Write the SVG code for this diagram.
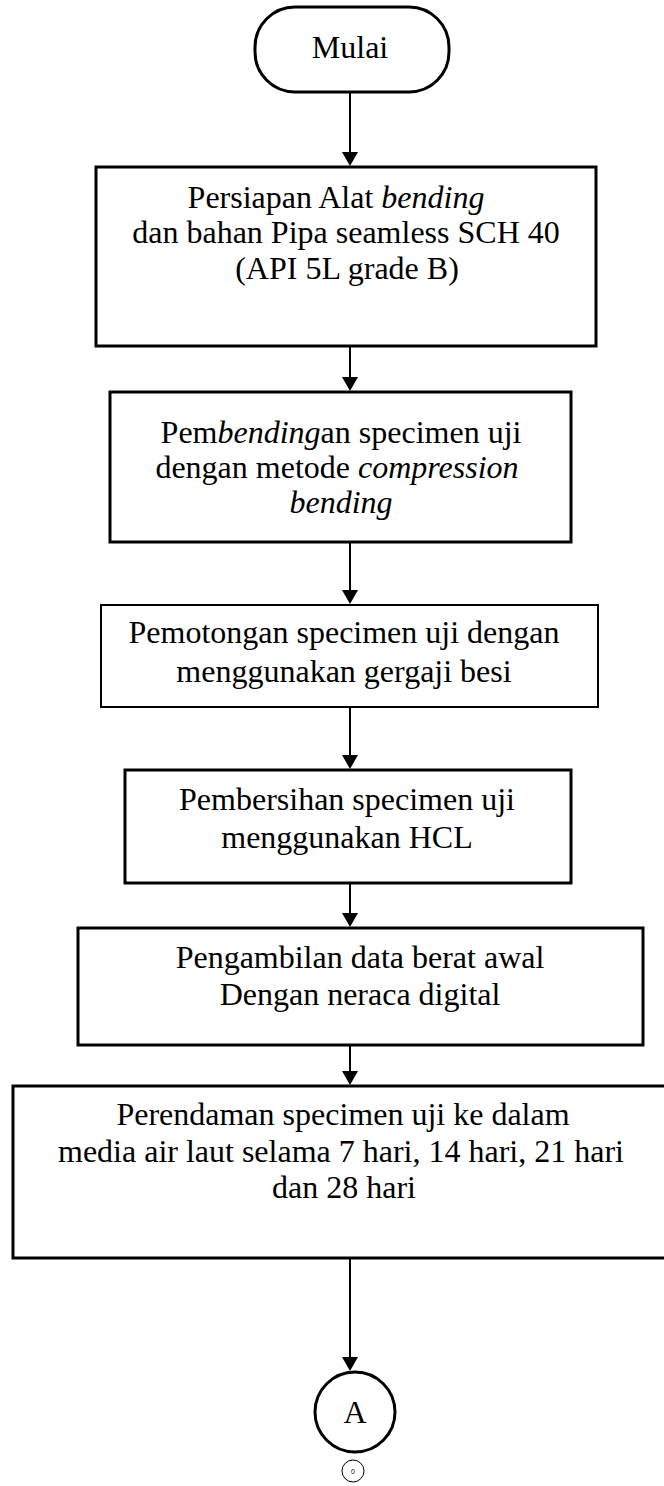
<svg xmlns="http://www.w3.org/2000/svg" width="664" height="1486" viewBox="0 0 664 1486">
<style>
.box{fill:#fff;stroke:#000;stroke-width:3}
.thin{fill:#fff;stroke:#000;stroke-width:2}
.t{font-family:"Liberation Serif","Times New Roman",serif;font-size:32px;fill:#000;text-anchor:middle}
.i{font-style:italic}
.c{stroke:#000;stroke-width:2;fill:none}
</style>
<defs>
<marker id="ah" markerUnits="userSpaceOnUse" markerWidth="16" markerHeight="15" refX="8" refY="15" orient="auto-start-reverse" viewBox="0 0 16 15">
<path d="M0,0 L16,0 L8,15 Z" fill="#000" transform="rotate(0)"/>
</marker>
</defs>
<rect width="664" height="1486" fill="#fff"/>
<g id="connectors">
<line class="c" x1="350" y1="92" x2="350" y2="152"/><path d="M342,152 L358,152 L350,166 Z"/>
<line class="c" x1="350" y1="346" x2="350" y2="378"/><path d="M342,377 L358,377 L350,391 Z"/>
<line class="c" x1="350" y1="542" x2="350" y2="591"/><path d="M342,590 L358,590 L350,604 Z"/>
<line class="c" x1="350" y1="707" x2="350" y2="756"/><path d="M342,755 L358,755 L350,769 Z"/>
<line class="c" x1="350" y1="883" x2="350" y2="914"/><path d="M342,913 L358,913 L350,927 Z"/>
<line class="c" x1="350" y1="1045" x2="350" y2="1072"/><path d="M342,1071 L358,1071 L350,1085 Z"/>
<line class="c" x1="350" y1="1258" x2="350" y2="1358"/><path d="M342,1357 L358,1357 L350,1371 Z"/>
</g>
<g id="start">
<rect class="box" x="255" y="7" width="194" height="85" rx="40" ry="40"/>
<text class="t" x="350" y="58">Mulai</text>
</g>
<g id="n1">
<rect class="box" x="96" y="167" width="500" height="179"/>
<text class="t" x="336" y="208">Persiapan Alat <tspan class="i">bending</tspan></text>
<text class="t" x="346" y="243">dan bahan Pipa seamless SCH 40</text>
<text class="t" x="347" y="279">(API 5L grade B)</text>
</g>
<g id="n2">
<rect class="box" x="110" y="392" width="461" height="150"/>
<text class="t" x="341" y="443">Pem<tspan class="i">bending</tspan>an specimen uji</text>
<text class="t" x="337" y="478">dengan metode <tspan class="i">compression</tspan></text>
<text class="t i" x="341" y="513">bending</text>
</g>
<g id="n3">
<rect class="thin" x="101" y="605" width="497" height="102"/>
<text class="t" x="344" y="643">Pemotongan specimen uji dengan</text>
<text class="t" x="344" y="682">menggunakan gergaji besi</text>
</g>
<g id="n4">
<rect class="box" x="125" y="770" width="446" height="113"/>
<text class="t" x="347" y="810">Pembersihan specimen uji</text>
<text class="t" x="347" y="848">menggunakan HCL</text>
</g>
<g id="n5">
<rect class="box" x="78" y="928" width="565" height="117"/>
<text class="t" x="360" y="968">Pengambilan data berat awal</text>
<text class="t" x="360" y="1005">Dengan neraca digital</text>
</g>
<g id="n6">
<rect class="box" x="13" y="1086" width="670" height="172"/>
<text class="t" x="343" y="1125">Perendaman specimen uji ke dalam</text>
<text class="t" x="341" y="1162">media air laut selama 7 hari, 14 hari, 21 hari</text>
<text class="t" x="344" y="1198">dan 28 hari</text>
</g>
<g id="connA">
<circle cx="355" cy="1412" r="40" fill="#fff" stroke="#000" stroke-width="3"/>
<text class="t" x="355" y="1423">A</text>
</g>
<g id="pageRef">
<circle cx="353" cy="1471" r="11" fill="#fff" stroke="#000" stroke-width="1"/>
<text x="353" y="1474" font-family="Liberation Sans, Arial, sans-serif" font-size="7" text-anchor="middle" fill="#000">0</text>
</g>
</svg>
